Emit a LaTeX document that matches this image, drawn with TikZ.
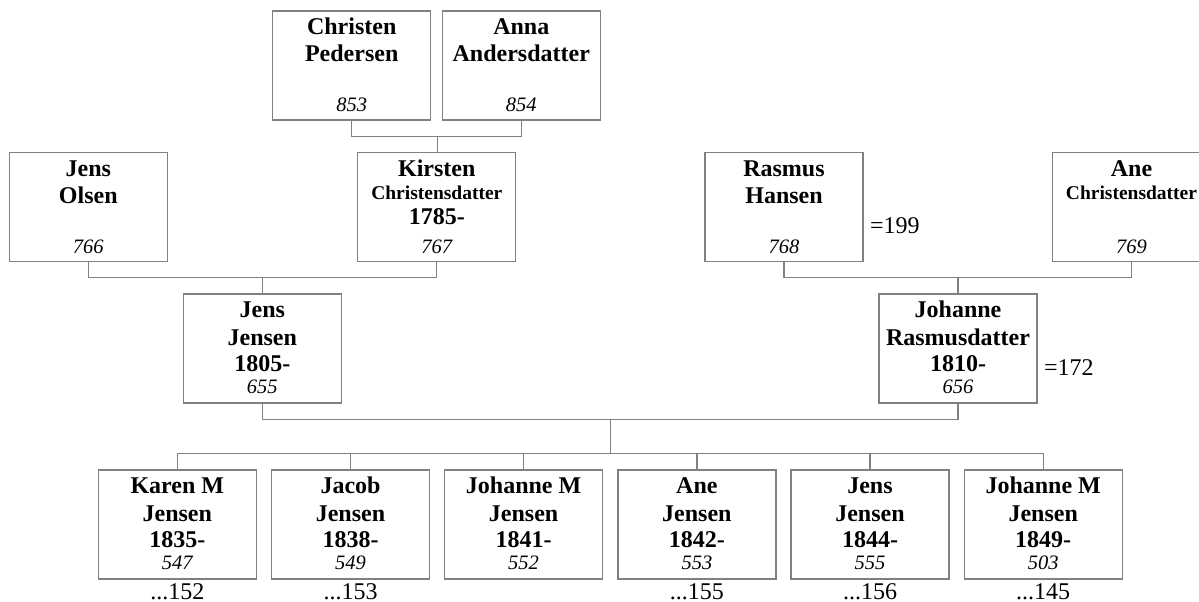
\documentclass[tikz,border=0pt]{standalone}
\usepackage{fontspec}
\setmainfont{Liberation Serif}
\definecolor{linegray}{RGB}{128,128,128}
\tikzset{
  pbox/.style={draw=linegray, line width=1.3pt, fill=white, rectangle, inner sep=0pt, outer sep=0pt,
    minimum width=158pt, minimum height=109pt, anchor=north west},
  conn/.style={draw=linegray, line width=1.3pt},
  nm/.style={inner sep=0pt, anchor=base, font=\fontsize{24}{27}\selectfont\bfseries},
  sm/.style={inner sep=0pt, anchor=base, font=\fontsize{19.5}{22}\selectfont\bfseries},
  num/.style={inner sep=0pt, anchor=base, font=\fontsize{20.5}{23}\selectfont\itshape},
  note/.style={inner sep=0pt, anchor=base, font=\fontsize{24}{27}\selectfont},
}
% four-line box: name, line1, line2, year, number
\newcommand\fourbox[5]{%
  \node[nm] (#1-a) at ([yshift=-23.5pt]#1.north) {#2};
  \node[nm] (#1-b) at ([yshift=-51pt]#1.north) {#3};
  \node[nm] (#1-c) at ([yshift=-77.5pt]#1.north) {#4};
  \node[num] (#1-d) at ([yshift=-99.3pt]#1.north) {#5};
}
\newcommand\twobox[4]{%
  \node[nm] (#1-a) at ([yshift=-24pt]#1.north) {#2};
  \node[nm] (#1-b) at ([yshift=-51pt]#1.north) {#3};
  \node[num] (#1-d) at ([yshift=-100.6pt]#1.north) {#4};
}
\begin{document}
\begin{tikzpicture}[x=1pt,y=-1pt]
\useasboundingbox (0,0) rectangle (1199,602);
\fill[white] (0,0) rectangle (1199,602);

% boxes
\node[pbox] (christen) at (272.7,11) {};
\node[pbox] (anna) at (442.3,11) {};
\node[pbox] (olsen) at (9.3,152.7) {};
\node[pbox] (kirsten) at (357.8,152.7) {};
\node[pbox] (rasmus) at (705,152.7) {};
\node[pbox] (ane) at (1052.5,152.7) {};
\node[pbox] (jens) at (183.3,294) {};
\node[pbox] (johanner) at (879,294) {};
\node[pbox] (k1) at (98.3,470) {};
\node[pbox] (k2) at (271.5,470) {};
\node[pbox] (k3) at (444.6,470) {};
\node[pbox] (k4) at (617.9,470) {};
\node[pbox] (k5) at (791,470) {};
\node[pbox] (k6) at (964.2,470) {};

% junction points
\coordinate (m1) at (437.6,136.7);
\coordinate (m2) at (262.5,277.3);
\coordinate (m3) at (958,277.3);
\coordinate (m4) at (610.5,419.3);
\coordinate (m5) at (610.5,453.5);

% connectors
\draw[conn] (christen.south) |- (m1) -| (anna.south);
\draw[conn] (m1) -- (m1 |- kirsten.north);
\draw[conn] (olsen.south) |- (m2) -| (kirsten.south);
\draw[conn] (m2) -- (m2 |- jens.north);
\draw[conn] (rasmus.south) |- (m3) -| (ane.south);
\draw[conn] (m3) -- (m3 |- johanner.north);
\draw[conn] (jens.south) |- (m4) -| (johanner.south);
\draw[conn] (m4) -- (m5);
\draw[conn] (k1.north) |- (m5) -| (k6.north);
\draw[conn] (k2.north) -- (k2.north |- m5);
\draw[conn] (k3.north) -- (k3.north |- m5);
\draw[conn] (k4.north) -- (k4.north |- m5);
\draw[conn] (k5.north) -- (k5.north |- m5);

% texts
\twobox{christen}{Christen}{Pedersen}{853}
\twobox{anna}{Anna}{Andersdatter}{854}
\twobox{olsen}{Jens}{Olsen}{766}
\twobox{rasmus}{Rasmus}{Hansen}{768}

\node[nm] (kirsten-a) at ([yshift=-24pt]kirsten.north) {Kirsten};
\node[sm] (kirsten-b) at ([yshift=-46.6pt]kirsten.north) {Christensdatter};
\node[nm] (kirsten-c) at ([yshift=-71.3pt]kirsten.north) {1785-};
\node[num] (kirsten-d) at ([yshift=-100.6pt]kirsten.north) {767};

\node[nm] (ane-a) at ([yshift=-24pt]ane.north) {Ane};
\node[sm] (ane-b) at ([yshift=-46.6pt]ane.north) {Christensdatter};
\node[num] (ane-d) at ([yshift=-100.6pt]ane.north) {769};

\fourbox{jens}{Jens}{Jensen}{1805-}{655}
\fourbox{johanner}{Johanne}{Rasmusdatter}{1810-}{656}
\fourbox{k1}{Karen M}{Jensen}{1835-}{547}
\fourbox{k2}{Jacob}{Jensen}{1838-}{549}
\fourbox{k3}{Johanne M}{Jensen}{1841-}{552}
\fourbox{k4}{Ane}{Jensen}{1842-}{553}
\fourbox{k5}{Jens}{Jensen}{1844-}{555}
\fourbox{k6}{Johanne M}{Jensen}{1849-}{503}

% side notes
\node[note, anchor=base west] (r199) at (870,233) {=199};
\node[note, anchor=base west] (j172) at (1044,375) {=172};

% references below children
\node[note] (n1) at ([yshift=-129pt]k1.north) {...152};
\node[note] (n2) at ([yshift=-129pt]k2.north) {...153};
\node[note] (n4) at ([yshift=-129pt]k4.north) {...155};
\node[note] (n5) at ([yshift=-129pt]k5.north) {...156};
\node[note] (n6) at ([yshift=-129pt]k6.north) {...145};
\end{tikzpicture}
\end{document}
